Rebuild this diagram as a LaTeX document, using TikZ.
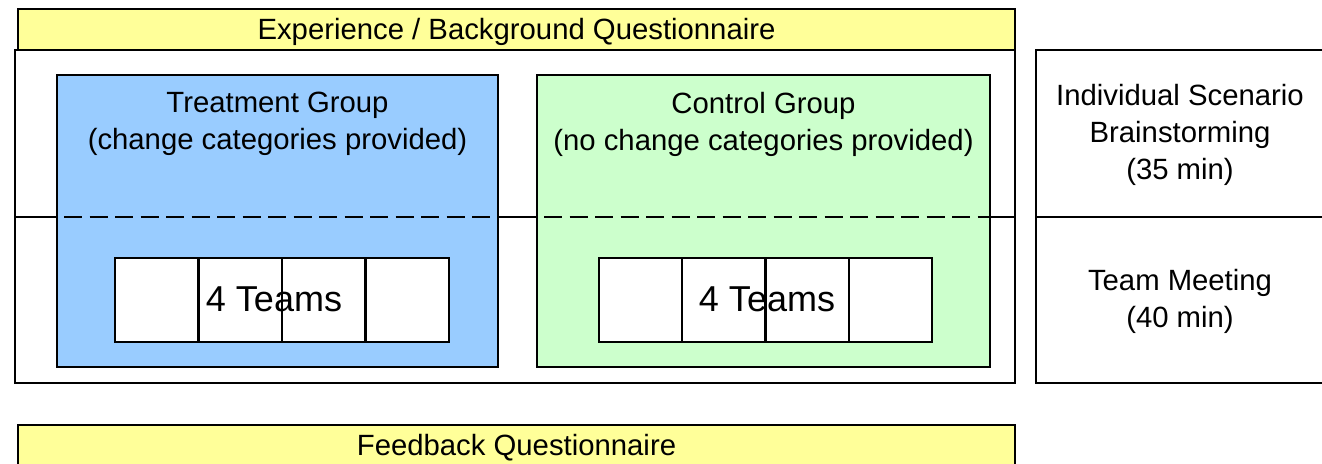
\documentclass[tikz,border=0pt]{standalone}
\usepackage{fontspec}
\setmainfont{Liberation Sans}
\definecolor{qyellow}{HTML}{FFFF99}
\definecolor{tblue}{HTML}{99CCFF}
\definecolor{cgreen}{HTML}{CCFFCC}
\begin{document}
\begin{tikzpicture}[x=1pt,y=-1pt,
  box/.style={draw=black,line width=2pt,rectangle,inner sep=0pt,minimum width=#1},
  lbl/.style={font=\fontsize{29.3}{37}\selectfont,align=center,inner sep=0pt},
  big/.style={font=\fontsize{36}{40}\selectfont,inner sep=0pt},
  team/.style={draw=black,line width=2.2pt,fill=white,rectangle,inner sep=0pt,minimum width=83.5pt,minimum height=84pt},
  dashline/.style={line width=2pt,dash pattern=on 18pt off 7.5pt,dash phase=-8pt}]
\useasboundingbox (0,0) rectangle (1322,463);

% questionnaires
\node[box=997pt,fill=qyellow,minimum height=41pt] (pre) at (516.5,29.5) {};
\node[box=997pt,fill=qyellow,minimum height=40pt] (post) at (516.5,445) {};

% session frame with the split between the two phases
\node[box=1000pt,fill=white,minimum height=333pt] (frame) at (515,216.5) {};
\draw[line width=2pt] (frame.west) -- (frame.east);

% phase column on the right
\node[box=288pt,fill=white,minimum height=333pt] (phase) at (1180,216.5) {};
\draw[line width=2pt] (phase.west) -- (phase.east);

% the two groups
\node[box=441pt,fill=tblue,minimum height=292pt] (treat) at (277.5,221) {};
\node[box=453pt,fill=cgreen,minimum height=292pt] (ctrl) at (763.5,221) {};
\draw[dashline] (treat.west |- frame.center) -- (treat.east |- frame.center);
\draw[dashline] (ctrl.west |- frame.center) -- (ctrl.east |- frame.center);

% teams
\foreach \i/\x in {1/156.75,2/240.25,3/323.75,4/407.25}
  \node[team] (t\i) at (\x,300) {};
\foreach \i/\x in {1/640.6,2/723.9,3/807.1,4/890.4}
  \node[team,minimum width=83.3pt] (c\i) at (\x,300) {};

% labels
\node[lbl] (pretxt) at (516.5,31.5) {Experience / Background Questionnaire};
\node[lbl] (posttxt) at (516.5,448) {Feedback Questionnaire};
\node[lbl] (treattxt) at (277.5,124) {Treatment Group\\(change categories provided)};
\node[lbl] (ctrltxt) at (763.5,124) {Control Group\\(no change categories provided)};
\node[big] (tteams) at (274,299) {4 Teams};
\node[big] (cteams) at (767,299) {4 Teams};
\node[lbl] (ind) at (1180,135) {Individual Scenario\\Brainstorming\\(35 min)};
\node[lbl] (meet) at (1180,301) {Team Meeting\\(40 min)};
\end{tikzpicture}
\end{document}
